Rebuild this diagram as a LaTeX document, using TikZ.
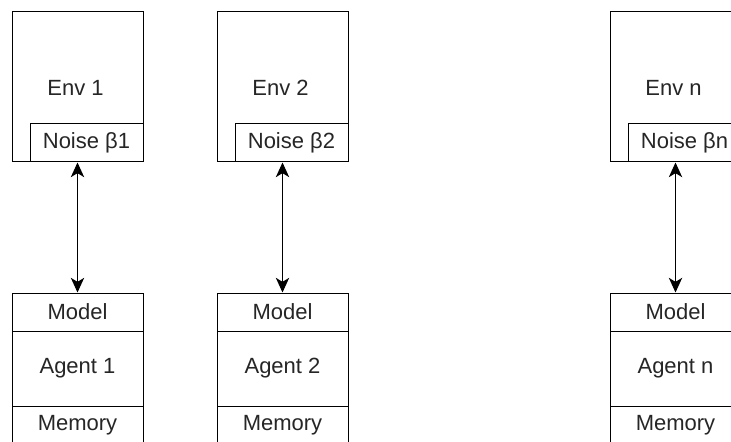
\documentclass[tikz,border=0pt]{standalone}
\usepackage{fontspec}
\setmainfont{Liberation Sans}
\usetikzlibrary{arrows.meta}
\begin{document}
\begin{tikzpicture}[x=0.75pt,y=-0.75pt,
  txt/.style={inner sep=0pt, font=\fontsize{16.5}{19}\selectfont, text=black!85},
  box/.style={txt, draw=black, line width=0.75pt, fill=white},
  envbox/.style={box, minimum width={131*0.75pt}, minimum height={150*0.75pt}},
  noisebox/.style={box, minimum width={113*0.75pt}, minimum height={38*0.75pt}},
  rowbox/.style={box, minimum width={131*0.75pt}, minimum height={38*0.75pt}},
  midbox/.style={box, minimum width={131*0.75pt}, minimum height={75*0.75pt}},
  link/.style={line width=0.9pt, {Stealth[length=11pt,width=10pt,inset=3pt]}-{Stealth[length=11pt,width=10pt,inset=3pt]}}
]
\useasboundingbox (0,0) rectangle (731,442);
\clip (0,0) rectangle (731,442);
% columns
\foreach \cx/\k in {77.5/1, 282.5/2, 675.5/n} {
  \node[envbox] (env\k) at (\cx,87) {};
  \node[txt] (envlabel\k) at (\cx-2,88) {Env \k};
  \node[noisebox] (noise\k) at (\cx+9,143) {Noise β\k};
  \node[rowbox] (model\k) at (\cx,312) {Model};
  \node[midbox] (agent\k) at (\cx,368.5) {Agent \k};
  \node[rowbox] (memory\k) at (\cx,425) {Memory};
  \draw[link] (env\k.south) -- (model\k.north);
}
\end{tikzpicture}
\end{document}
